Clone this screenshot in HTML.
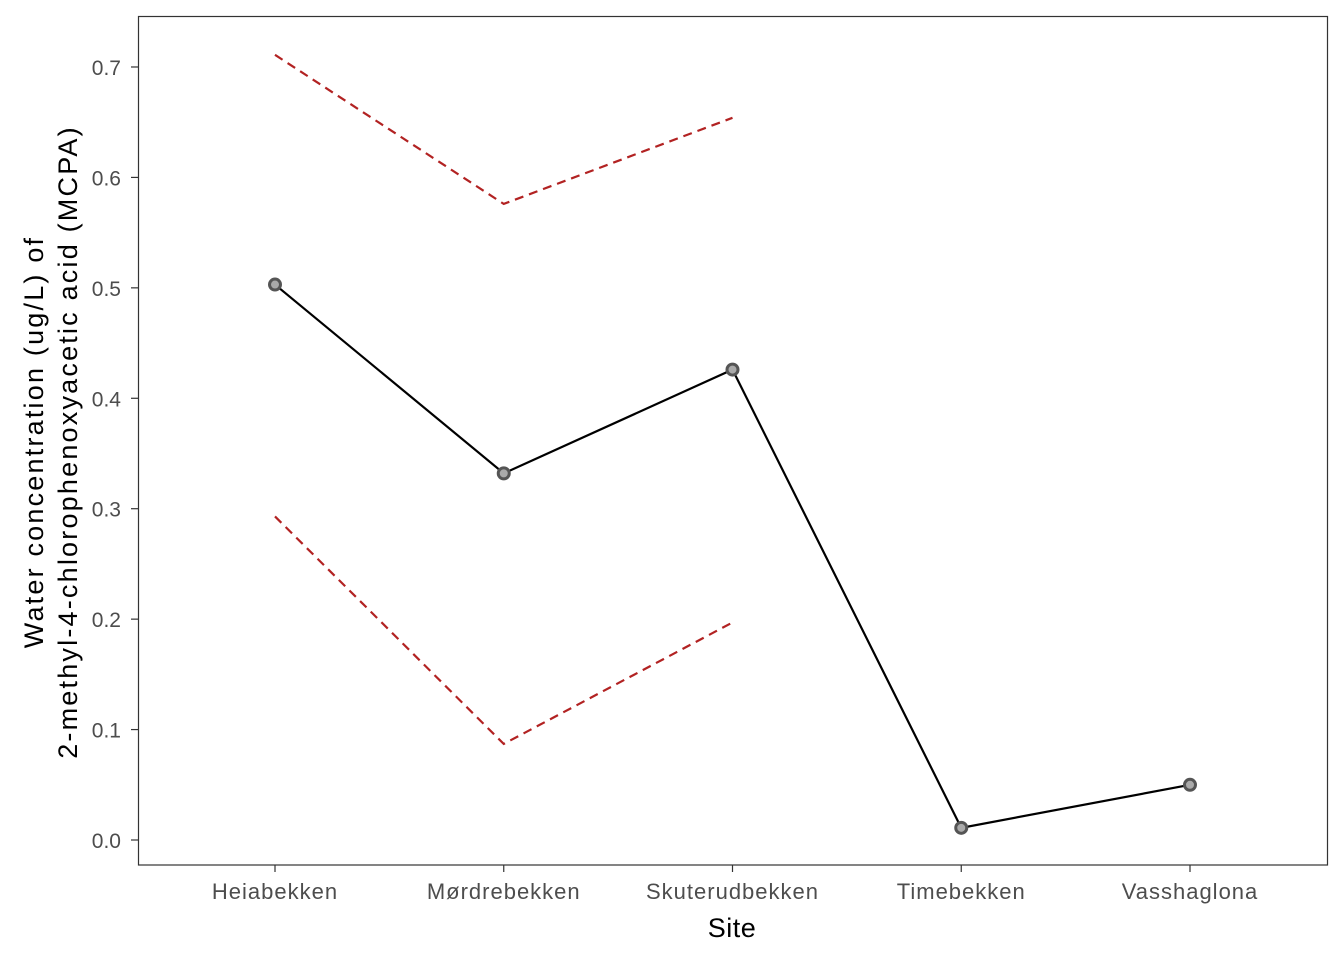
<!DOCTYPE html>
<html><head><meta charset="utf-8"><style>
body{margin:0;background:#fff;}
svg text{font-family:"Liberation Sans",sans-serif;}
</style></head><body>
<svg id="chart" width="1344" height="960" xmlns="http://www.w3.org/2000/svg">
<rect x="138.5" y="16.5" width="1189" height="848.5" fill="#fff" stroke="#333" stroke-width="1.2"/>
<g id="marks"></g>
<text x="732" y="937" font-size="27" text-anchor="middle" letter-spacing="0.5">Site</text>
<text transform="translate(43,442) rotate(-90)" font-size="27" text-anchor="middle" letter-spacing="2.2">Water concentration (ug/L) of</text>
<text transform="translate(77,442) rotate(-90)" font-size="27" text-anchor="middle" letter-spacing="2.2">2-methyl-4-chlorophenoxyacetic acid (MCPA)</text>
</svg>
<script>
const sites=["Heiabekken","Mørdrebekken","Skuterudbekken","Timebekken","Vasshaglona"];
const means=[0.503,0.332,0.426,0.011,0.050];
const upper=[0.711,0.576,0.654];
const lower=[0.293,0.087,0.197];
const yTicks=[0.0,0.1,0.2,0.3,0.4,0.5,0.6,0.7];
const NS="http://www.w3.org/2000/svg";
const g=document.getElementById('marks');
const xS=i=>275+i*228.75;
const yS=v=>840-v*1104.3;
function mk(t,a){const e=document.createElementNS(NS,t);for(const k in a)e.setAttribute(k,a[k]);g.appendChild(e);return e;}
yTicks.forEach(v=>{
 const l=mk('line',{x1:131,x2:138,y1:yS(v),y2:yS(v),stroke:'#333','stroke-width':1.2});
 
 
 const t=mk('text',{x:121,y:yS(v)+8,'font-size':21,fill:'#4d4d4d','text-anchor':'end'});
 t.textContent=v.toFixed(1);
 
 
});
sites.forEach((s,i)=>{
 const l=mk('line',{x1:xS(i),x2:xS(i),y1:865,y2:872,stroke:'#333','stroke-width':1.2});
 
 
 const t=mk('text',{x:xS(i),y:899,'font-size':22,fill:'#4d4d4d','text-anchor':'middle','letter-spacing':1});
 t.textContent=s;
 
 
});
function path(arr){return arr.map((v,i)=>(i?'L':'M')+xS(i)+','+yS(v)).join(' ');}
const up=mk('path',{d:path(upper),fill:'none',stroke:'#b22222','stroke-width':2.2,'stroke-dasharray':'9,6'});


const lo=mk('path',{d:path(lower),fill:'none',stroke:'#b22222','stroke-width':2.2,'stroke-dasharray':'9,6'});


const ml=mk('path',{d:path(means),fill:'none',stroke:'#000','stroke-width':2.2});


means.forEach((v,i)=>{
 const c=mk('circle',{cx:xS(i),cy:yS(v),r:5.5,fill:'#aaa',stroke:'#555','stroke-width':3});
 
 
});
</script>
</body></html>
